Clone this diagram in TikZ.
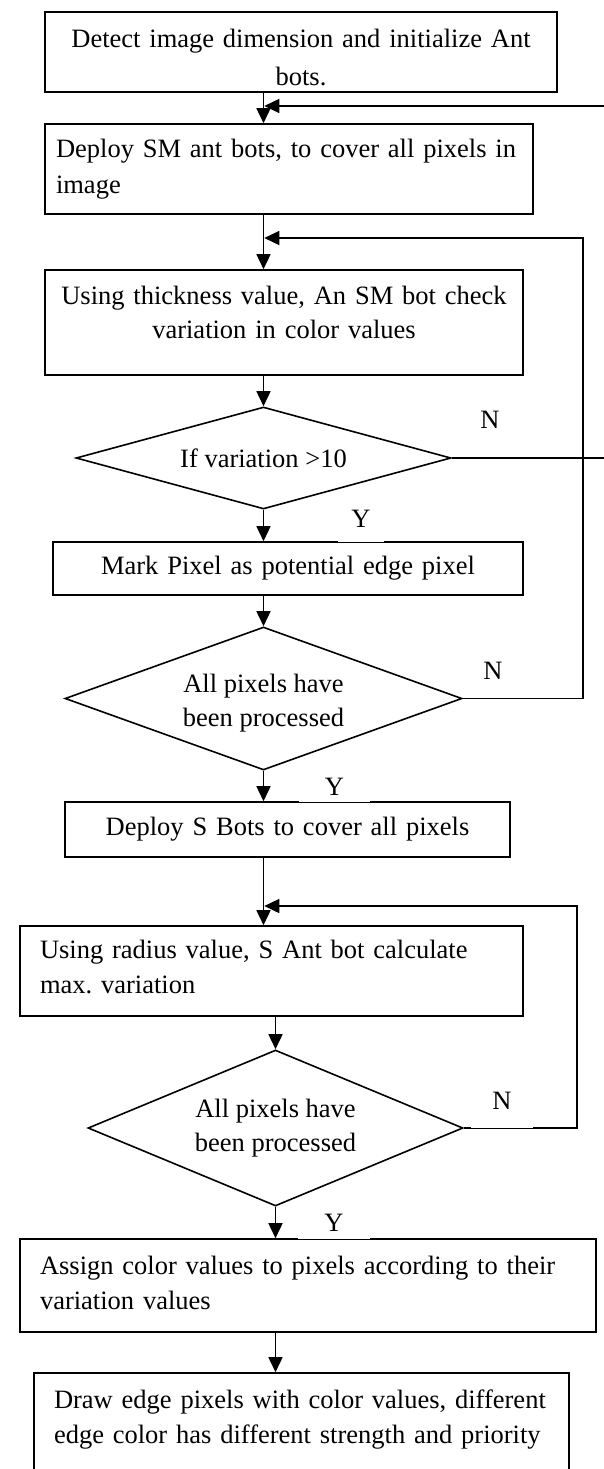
\documentclass[tikz,border=0pt]{standalone}
\usepackage{fontspec}
\setmainfont{Liberation Serif}
\frenchspacing
\usetikzlibrary{arrows.meta,shapes.geometric}
\begin{document}
\begin{tikzpicture}[x=1pt,y=-1pt,
  every node/.style={font=\fontsize{26.5}{35}\selectfont},
  box/.style={draw,line width=1.6pt,rectangle,inner ysep=0pt},
  dia/.style={draw,line width=1.6pt,diamond,inner sep=0pt,align=center},
  arr/.style={line width=1.6pt,-{Triangle[length=15pt,width=14pt]}},
  ln/.style={line width=1.6pt},
  lab/.style={fill=white,inner sep=0pt}
]
\useasboundingbox (0,0) rectangle (603,1469);

% process boxes
\node[box,minimum width=512pt,minimum height=80pt,text width=492pt,inner xsep=10pt,align=center,
  font=\fontsize{26.5}{38}\selectfont] (b1) at (301,52)
  {\rule{0pt}{30pt}\mbox{Detect image dimension and initialize Ant}\\bots.};
\node[box,minimum width=488pt,minimum height=90pt,text width=466pt,inner xsep=11pt,align=left,
  font=\fontsize{26.5}{36}\selectfont] (b2) at (289,169)
  {\mbox{Deploy SM ant bots, to cover all pixels in}\\image};
\node[box,minimum width=478pt,minimum height=105pt,text width=458pt,inner xsep=10pt,align=center,
  font=\fontsize{26.5}{34}\selectfont] (b3) at (284,322.5)
  {\mbox{Using thickness value, An SM bot check}\\variation in color values\rule[-20pt]{0pt}{1pt}};
\node[dia,minimum width=375pt,minimum height=102pt,shape aspect=3.7] (d1) at (263.5,458)
  {If variation >10};
\node[box,minimum width=470pt,minimum height=53pt,text width=450pt,inner xsep=10pt,align=center] (b4) at (288,568.5)
  {Mark Pixel as potential edge pixel};
\node[dia,minimum width=397pt,minimum height=143pt,shape aspect=2.8,
  font=\fontsize{26.5}{34}\selectfont] (d2) at (263.5,698.5)
  {\rule{0pt}{27pt}All pixels have\\been processed};
\node[box,minimum width=445pt,minimum height=55pt,text width=425pt,inner xsep=10pt,align=center] (b5) at (287.5,829.5)
  {Deploy S Bots to cover all pixels};
\node[box,minimum width=503pt,minimum height=90pt,text width=463pt,inner xsep=20pt,align=left] (b6) at (271.5,971)
  {\mbox{Using radius value, S Ant bot calculate}\\max. variation\rule[-9pt]{0pt}{1pt}};
\node[dia,minimum width=375pt,minimum height=156pt,shape aspect=2.4,
  font=\fontsize{26.5}{34}\selectfont] (d3) at (275.5,1128)
  {All pixels have\\been processed};
\node[box,minimum width=576pt,minimum height=93pt,text width=536pt,inner xsep=20pt,align=left] (b7) at (308,1285.5)
  {\mbox{Assign color values to pixels according to their}\\variation values\rule[-6pt]{0pt}{1pt}};
\node[box,minimum width=535pt,minimum height=100pt,text width=495pt,inner xsep=20pt,align=left,
  font=\fontsize{26.5}{35}\selectfont] (b8) at (301.5,1423)
  {\mbox{Draw edge pixels with color values, different}\\\mbox{edge color has different strength and priority}\rule[-13pt]{0pt}{1pt}};

% junction points of the loops
\coordinate (j1) at (263.5,106);
\coordinate (j2) at (263.5,238);
\coordinate (j3) at (263.5,906);
\coordinate (r1) at (605,458);
\coordinate (r1t) at (605,106);
\coordinate (r2) at (583,698.5);
\coordinate (r2t) at (583,238);
\coordinate (r3) at (577,1128);
\coordinate (r3t) at (577,906);

% main flow
\draw[arr] (b1.south -| d1.north) -- (b2.north -| d1.north);
\draw[arr] (b2.south -| d1.north) -- (b3.north -| d1.north);
\draw[arr] (b3.south -| d1.north) -- (d1.north);
\draw[arr] (d1.south) -- (b4.north -| d1.south);
\draw[arr] (b4.south -| d2.north) -- (d2.north);
\draw[arr] (d2.south) -- (b5.north -| d2.south);
\draw[arr] (b5.south -| d2.north) -- (b6.north -| d2.north);
\draw[arr] (b6.south -| d3.north) -- (d3.north);
\draw[arr] (d3.south) -- (b7.north -| d3.south);
\draw[arr] (b7.south -| d3.north) -- (b8.north -| d3.north);

% loops
\draw[arr,shorten >=0.8pt] (d1.east) -- (r1) -- (r1t) -- (j1);
\draw[arr,shorten >=0.8pt] (d2.east) -- (r2) -- (r2t) -- (j2);
\draw[arr,shorten >=0.8pt] (d3.east) -- (r3) -- (r3t) -- (j3);

% labels (their white grounds leave thin traces of the lines below)
\node[lab] (n1) at (490,420) {N};
\node[lab,minimum width=46pt,minimum height=47pt] (y1) at (361,518.5) {Y};
\node[lab,minimum width=60pt,minimum height=48.2pt] (n2) at (493,674.1) {\raisebox{6pt}{N}};
\node[lab,minimum width=71pt,minimum height=29.9pt] (y2) at (334.5,786.95) {Y};
\node[lab,minimum width=62pt,minimum height=47.7pt] (n3) at (502,1103.85) {\raisebox{7pt}{N}};
\node[lab,minimum width=72pt,minimum height=31.9pt] (y3) at (334,1222.95) {Y};
\end{tikzpicture}
\end{document}
